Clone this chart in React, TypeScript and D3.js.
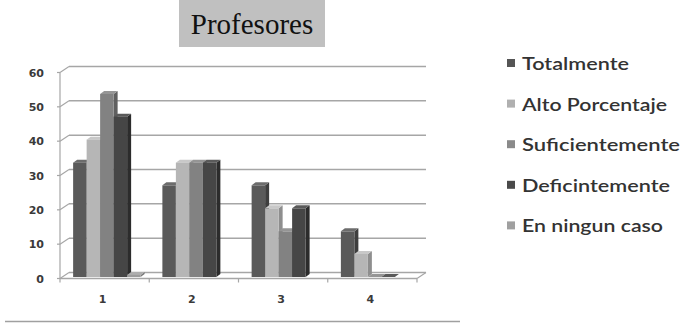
import React from "react";
import * as d3 from "d3";

const categories = ["1", "2", "3", "4"];
const seriesNames = ["Totalmente", "Alto Porcentaje", "Suficientemente", "Deficintemente", "En ningun caso"];
const totalmente = [33.3, 26.7, 26.7, 13.3];
const altoPorcentaje = [40, 33.3, 20, 6.7];
const suficientemente = [53.3, 33.3, 13.3, 0];
const deficintemente = [46.7, 33.3, 20, 0];
const enNingunCaso: (number | null)[] = [0.6, null, null, null];
const yTicks = [0, 10, 20, 30, 40, 50, 60];

const seriesValues: (number | null)[][] = [totalmente, altoPorcentaje, suficientemente, deficintemente, enNingunCaso];
const frontColors = ["#5a5a5a", "#b6b6b6", "#828282", "#464646", "#9c9c9c"];
const sideColors = ["#3e3e3e", "#8e8e8e", "#606060", "#2c2c2c", "#787878"];
const topColors = ["#6c6c6c", "#c8c8c8", "#959595", "#5a5a5a", "#aeaeae"];
const legendColors = ["#555555", "#b0b0b0", "#8a8a8a", "#4a4a4a", "#a0a0a0"];
const legendWidths = [107, 145, 158, 148, 141];

export default function App() {
  const DX = 9, DY = -6;
  const x0 = 60, x1 = 417;
  const y = d3.scaleLinear().domain([0, 60]).range([278.5, 72.5]);
  const xCat = d3.scaleBand<string>().domain(categories).range([x0, x1]).paddingInner(0).paddingOuter(0);
  const xSer = d3.scaleBand<string>().domain(seriesNames).range([0, xCat.bandwidth()]).paddingInner(0).paddingOuter(0.806);
  const bw = xSer.bandwidth();
  const bdx = 4, bdy = -3;
  const barShiftX = 0.25 * DX, barShiftY = 0.25 * DY;
  const gridColor = "#a6a6a6";

  const bars: React.ReactNode[] = [];
  categories.forEach((c, ci) => {
    seriesNames.forEach((s, si) => {
      const v = seriesValues[si][ci];
      if (v === null || v === undefined) return;
      const left = (xCat(c) as number) + (xSer(s) as number) + barShiftX;
      const right = left + bw;
      const bottom = y(0) + barShiftY;
      const top = y(v) + barShiftY;
      bars.push(
        <g key={`${ci}-${si}`}>
          <polygon points={`${right},${bottom} ${right + bdx},${bottom + bdy} ${right + bdx},${top + bdy} ${right},${top}`} fill={sideColors[si]} />
          <polygon points={`${left},${top} ${left + bdx},${top + bdy} ${right + bdx},${top + bdy} ${right},${top}`} fill={topColors[si]} />
          <rect x={left} y={top} width={bw} height={Math.max(0, bottom - top)} fill={frontColors[si]} />
        </g>
      );
    });
  });

  return (
    <svg width={682} height={323} style={{ position: "absolute", left: 0, top: 0, background: "#fff" }}>
      {/* title */}
      <rect x={179} y={0} width={146} height={47} fill="#c0c0c0" />
      <text x={252} y={34} textAnchor="middle" fontFamily="Liberation Serif, serif" fontSize={29} fill="#111">Profesores</text>

      {/* gridlines on back wall + left wall connectors */}
      {yTicks.map((t) => (
        <g key={t}>
          <line x1={x0 + DX} x2={x1 + DX} y1={y(t) + DY} y2={y(t) + DY} stroke={gridColor} strokeWidth={1.5} />
          <line x1={x0} y1={y(t)} x2={x0 + DX} y2={y(t) + DY} stroke={gridColor} strokeWidth={1.2} />
          <line x1={x0 - 3} x2={x0} y1={y(t)} y2={y(t)} stroke={gridColor} strokeWidth={1.2} />
          <text x={44} y={y(t) + 4} textAnchor="end" fontFamily="DejaVu Sans, sans-serif" fontWeight="bold" fontSize={11} fill="#3a3a3a">{t}</text>
        </g>
      ))}
      <line x1={x0} x2={x0} y1={y(60)} y2={y(0)} stroke={gridColor} strokeWidth={1.2} />
      {/* floor */}
      <line x1={x0} x2={x1} y1={y(0)} y2={y(0)} stroke={gridColor} strokeWidth={1.5} />
      <line x1={x1} y1={y(0)} x2={x1 + DX} y2={y(0) + DY} stroke={gridColor} strokeWidth={1.2} />
      {categories.map((c) => (
        <line key={"t" + c} x1={xCat(c) as number} x2={xCat(c) as number} y1={y(0)} y2={y(0) + 4} stroke={gridColor} strokeWidth={1.2} />
      ))}
      <line x1={x1} x2={x1} y1={y(0)} y2={y(0) + 4} stroke={gridColor} strokeWidth={1.2} />

      {bars}

      {categories.map((c) => (
        <text key={"l" + c} x={(xCat(c) as number) + xCat.bandwidth() / 2 - 2} y={303} textAnchor="middle" fontFamily="DejaVu Sans, sans-serif" fontWeight="bold" fontSize={11} fill="#3a3a3a">{c}</text>
      ))}

      {/* legend */}
      {seriesNames.map((s, i) => {
        const cy = 63 + i * 40.6;
        return (
          <g key={"lg" + s}>
            <rect x={507} y={cy - 4} width={8} height={8} fill={legendColors[i]} />
            <text x={522} y={cy + 7} fontFamily="Lato, sans-serif" fontWeight={600} fontSize={18} fill="#333" textLength={legendWidths[i]} lengthAdjust="spacingAndGlyphs">{s}</text>
          </g>
        );
      })}

      {/* bottom rule */}
      <line x1={5} x2={460} y1={321.5} y2={321.5} stroke="#a0a0a0" strokeWidth={1.5} />
    </svg>
  );
}
